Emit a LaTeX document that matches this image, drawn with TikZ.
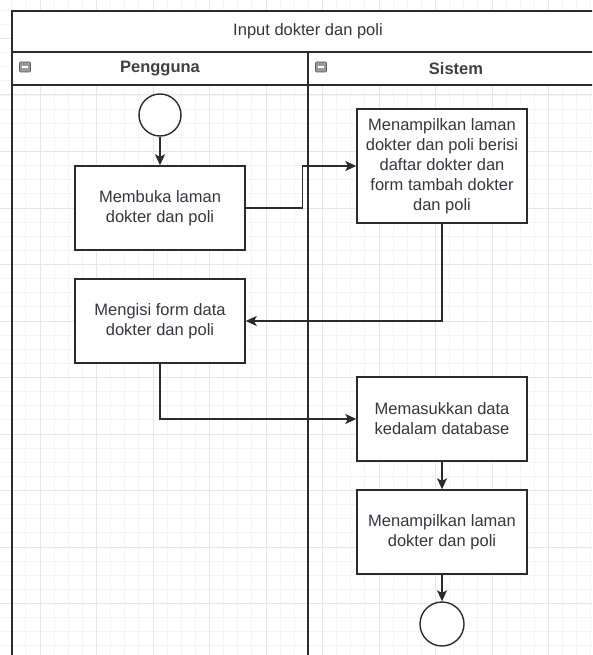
\documentclass[tikz,border=0pt]{standalone}
\usepackage{fontspec}
\setmainfont{Liberation Sans}
\usetikzlibrary{arrows.meta}
\definecolor{gridminor}{HTML}{F4F4F4}
\definecolor{gridmajor}{HTML}{E6E6E6}
\definecolor{ink}{HTML}{2B2B2B}
\definecolor{txt}{HTML}{363640}
\definecolor{iconfill}{HTML}{9A9A9A}

\begin{document}
\begin{tikzpicture}[x=1pt,y=-1pt,
  every node/.style={font=\fontsize{16.5}{20}\selectfont, text=txt},
  poolline/.style={draw=ink, line width=1.8pt},
  actbox/.style={draw=ink, line width=1.4pt, fill=white, align=center,
    minimum width=170pt, minimum height=84pt, inner sep=2pt},
  terminal/.style={circle, draw=ink, line width=1.4pt, fill=white,
    minimum size=42pt, inner sep=0pt},
  flow/.style={draw=ink, line width=1.4pt,
    -{Stealth[length=11pt,width=10pt,inset=2.5pt]}},
  lanetitle/.style={font=\bfseries\fontsize{16.5}{20}\selectfont, text=ink!90},
  foldicon/.style={draw=gray!70!black, fill=iconfill, line width=0.6pt,
    minimum width=11pt, minimum height=10pt, inner sep=0pt, rounded corners=1pt},
]
\useasboundingbox (0,0) rectangle (592,655);
\clip (0,0) rectangle (592,655);

% background grid
\foreach \i in {0,...,45}
  \draw[gridminor, line width=0.8pt] ({-16.5+\i*14.125},0) -- ({-16.5+\i*14.125},655);
\foreach \i in {0,...,48}
  \draw[gridminor, line width=0.8pt] (0,{-18+\i*14.125}) -- (592,{-18+\i*14.125});
\foreach \i in {0,...,11}
  \draw[gridmajor, line width=1pt] ({-16.5+\i*56.5},0) -- ({-16.5+\i*56.5},655);
\foreach \i in {0,...,12}
  \draw[gridmajor, line width=1pt] (0,{-18+\i*56.5}) -- (592,{-18+\i*56.5});

% pool with title band and lane headers
\fill[white] (12,11) rectangle (604,85);
\draw[poolline] (12,680) -- (12,11) -- (604,11) -- (604,680);
\draw[poolline] (12,52) -- (604,52);
\draw[poolline] (12,85) -- (604,85);
\draw[poolline] (308,52) -- (308,680);

\node (pooltitle) at (308,31) {Input dokter dan poli};
\node[lanetitle] (lane1) at (160,69) {Pengguna};
\node[lanetitle] (lane2) at (456,69) {Sistem};
\node[foldicon] (fold1) at (25,67) {};
\node[foldicon] (fold2) at (321,67) {};
\draw[white, line width=1.2pt] ([xshift=-3pt]fold1.center) -- ([xshift=3pt]fold1.center);
\draw[white, line width=1.2pt] ([xshift=-3pt]fold2.center) -- ([xshift=3pt]fold2.center);

% activities
\node[terminal] (start) at (160,115) {};
\node[actbox] (b1) at (160,208) {Membuka laman\\dokter dan poli};
\node[actbox, minimum height=114pt] (b2) at (442,166)
  {Menampilkan laman\\dokter dan poli berisi\\daftar dokter dan\\form tambah dokter\\dan poli};
\node[actbox] (b3) at (160,321) {Mengisi form data\\dokter dan poli};
\node[actbox] (b4) at (442,419) {Memasukkan data\\kedalam database};
\node[actbox] (b5) at (442,532) {Menampilkan laman\\dokter dan poli};
\node[terminal, minimum size=44pt] (stop) at (442,624) {};

% control flow
\draw[flow] (start) -- (b1);
\draw[flow] (b1.east) -- ++(57,0) |- (b2.west);
\draw[flow] (b2.south) |- (b3.east);
\draw[flow] (b3.south) |- (b4.west);
\draw[flow] (b4) -- (b5);
\draw[flow] (b5) -- (stop);
\end{tikzpicture}
\end{document}
